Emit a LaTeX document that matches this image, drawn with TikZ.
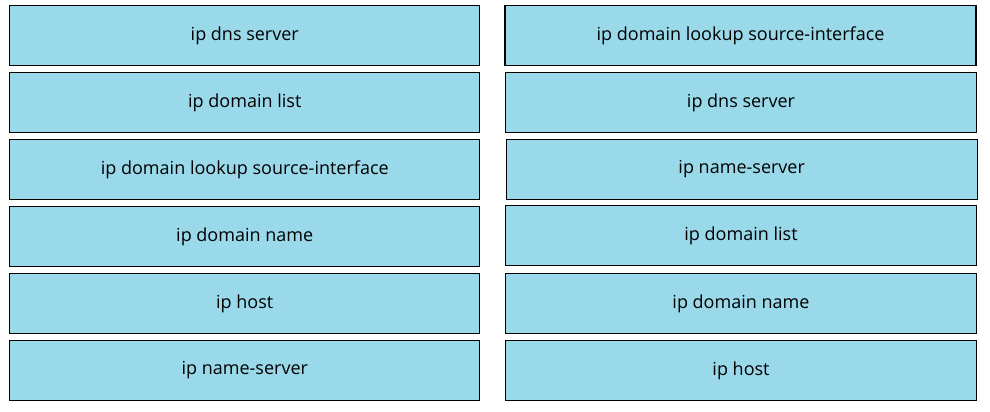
\documentclass[tikz,border=0pt]{standalone}
\usepackage{fontspec}
\setmainfont{Open Sans}
\definecolor{cmdblue}{RGB}{154,217,234}

\begin{document}
\begin{tikzpicture}[x=1pt,y=-1pt]
	\tikzset{cmdbox/.style={draw=black,line width=1.1pt,fill=cmdblue,minimum width=470pt,minimum height=60pt,inner sep=0pt,align=center,font=\fontsize{18}{21}\selectfont},
		rightbox/.style={cmdbox,minimum width=471pt}}
	\useasboundingbox (0,0) rectangle (990,412);
	% left column
	\node[cmdbox] (l1) at (244.75,35.5) {ip dns server};
	\node[cmdbox] (l2) at (244.75,102.5) {ip domain list};
	\node[cmdbox] (l3) at (244.75,169.5) {ip domain lookup source-interface};
	\node[cmdbox] (l4) at (244.75,236.5) {ip domain name};
	\node[cmdbox] (l5) at (244.75,303.5) {ip host};
	\node[cmdbox] (l6) at (244.75,370.5) {ip name-server};
	% right column
	\node[rightbox] (r1) at (740.5,35.5) {ip domain lookup source-interface};
	\node[rightbox] (r2) at (741,102.5) {ip dns server};
	\node[rightbox] (r3) at (741.7,169.5) {ip name-server};
	\node[rightbox] (r4) at (741,235.5) {ip domain list};
	\node[rightbox] (r5) at (741,303.5) {ip domain name};
	\node[rightbox] (r6) at (741,370.5) {ip host};
\end{tikzpicture}
\end{document}
